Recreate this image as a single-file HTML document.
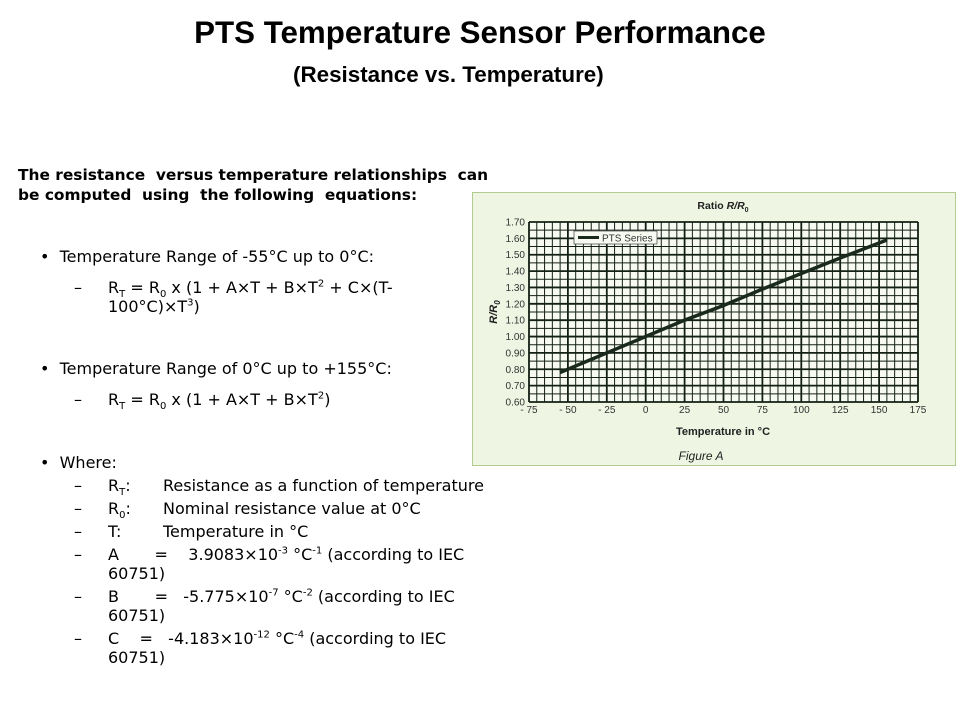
<!DOCTYPE html>
<html><head><meta charset="utf-8">
<style>
body{margin:0;width:960px;height:720px;background:#fff;position:relative;overflow:hidden;font-family:"DejaVu Sans","Liberation Sans",sans-serif;color:#000}
.t{position:absolute;white-space:nowrap;font-size:16px;line-height:19px}
.b{font-family:"Liberation Sans",sans-serif;font-weight:bold}
sub,sup{font-size:10px;line-height:0}
</style></head><body>
<div class="t b" style="left:0;width:960px;text-align:center;top:15px;font-size:31.3px;line-height:36px">PTS Temperature Sensor Performance</div>
<div class="t b" style="left:293px;top:62px;font-size:22.4px;line-height:26px">(Resistance vs. Temperature)</div>
<div class="t" style="left:18px;top:165px;font-size:15.4px;line-height:20px;font-weight:bold">The resistance &nbsp;versus temperature relationships &nbsp;can<br>be computed &nbsp;using &nbsp;the following &nbsp;equations:</div>

<div class="t" style="left:40px;top:247px">•&nbsp;&nbsp;Temperature Range of -55°C up to 0°C:</div>
<div class="t" style="left:74px;top:278px">–</div>
<div class="t" style="left:108px;top:278px">R<sub>T</sub> = R<sub>0</sub> x (1 + A×T + B×T<sup>2</sup> + C×(T-</div>
<div class="t" style="left:108px;top:297px">100°C)×T<sup>3</sup>)</div>
<div class="t" style="left:40px;top:359px">•&nbsp;&nbsp;Temperature Range of 0°C up to +155°C:</div>
<div class="t" style="left:74px;top:390px">–</div>
<div class="t" style="left:108px;top:390px">R<sub>T</sub> = R<sub>0</sub> x (1 + A×T + B×T<sup>2</sup>)</div>
<div class="t" style="left:40px;top:453px">•&nbsp;&nbsp;Where:</div>
<div class="t" style="left:74px;top:476px">–</div><div class="t" style="left:108px;top:476px">R<sub>T</sub>:</div><div class="t" style="left:163px;top:476px">Resistance as a function of temperature</div>
<div class="t" style="left:74px;top:499px">–</div><div class="t" style="left:108px;top:499px">R<sub>0</sub>:</div><div class="t" style="left:163px;top:499px">Nominal resistance value at 0°C</div>
<div class="t" style="left:74px;top:522px">–</div><div class="t" style="left:108px;top:522px">T:</div><div class="t" style="left:163px;top:522px">Temperature in °C</div>
<div class="t" style="left:74px;top:545px">–</div><div class="t" style="left:108px;top:545px">A&nbsp;&nbsp;&nbsp;&nbsp;&nbsp;&nbsp;&nbsp;=&nbsp;&nbsp;&nbsp;&nbsp;3.9083×10<sup>-3</sup> °C<sup>-1</sup> (according to IEC</div>
<div class="t" style="left:108px;top:564px">60751)</div>
<div class="t" style="left:74px;top:587px">–</div><div class="t" style="left:108px;top:587px">B&nbsp;&nbsp;&nbsp;&nbsp;&nbsp;&nbsp;&nbsp;=&nbsp;&nbsp;&nbsp;-5.775×10<sup>-7</sup> °C<sup>-2</sup> (according to IEC</div>
<div class="t" style="left:108px;top:606px">60751)</div>
<div class="t" style="left:74px;top:629px">–</div><div class="t" style="left:108px;top:629px">C&nbsp;&nbsp;&nbsp;&nbsp;=&nbsp;&nbsp;&nbsp;-4.183×10<sup>-12</sup> °C<sup>-4</sup> (according to IEC</div>
<div class="t" style="left:108px;top:648px">60751)</div>

<svg style="position:absolute;left:0;top:0" width="960" height="720" font-family="Liberation Sans, sans-serif">
<rect x="472.5" y="192.5" width="483" height="273" fill="#eef5e2" stroke="#b3cb8f"/>
<g id="g"></g>
</svg>
<script>
const temps=[-55,0,25,50,75,100,125,155];
const ratios=[0.78,1.00,1.10,1.19,1.29,1.385,1.48,1.59];
const xTicks=[-75,-50,-25,0,25,50,75,100,125,150,175];
const yTicks=[0.60,0.70,0.80,0.90,1.00,1.10,1.20,1.30,1.40,1.50,1.60,1.70];
const seriesName='PTS Series';
const X0=529,X1=918,Y0=402,Y1=222;
const x=v=>X0+(v+75)/250*(X1-X0);
const y=v=>Y0-(v-0.6)/1.1*(Y0-Y1);
const g=document.getElementById('g');const NS='http://www.w3.org/2000/svg';
function mk(t,a,txt){const e=document.createElementNS(NS,t);for(const k in a)e.setAttribute(k,a[k]);if(txt!=null)e.textContent=txt;g.appendChild(e);return e;}
let bg=mk('rect',{x:X0,y:Y1,width:X1-X0,height:Y0-Y1,fill:'#f7faf0'});


for(let v=-75;v<=175;v+=5){const major=v%25===0;let l=mk('line',{x1:x(v),x2:x(v),y1:Y1,y2:Y0,stroke:'#142014','stroke-width':major?1.8:1});

}
for(let i=0;i<=22;i++){const v=0.6+i*0.05;const major=i%2===0;let l=mk('line',{x1:X0,x2:X1,y1:y(v),y2:y(v),stroke:'#142014','stroke-width':major?1.8:1});

}
xTicks.forEach(v=>{let t=mk('text',{x:x(v),y:Y0+11,'font-size':10,'text-anchor':'middle',fill:'#333'},v<0?'- '+(-v):String(v));

});
yTicks.forEach(v=>{let t=mk('text',{x:X0-4,y:y(v)+3.5,'font-size':10,'text-anchor':'end',fill:'#333'},v.toFixed(2));

});
let p=mk('polyline',{points:temps.map((t,i)=>x(t)+','+y(ratios[i])).join(' '),fill:'none',stroke:'#1a2a1a','stroke-width':3.5});


let lb=mk('rect',{x:574,y:231,width:83,height:13,fill:'#f7faf0',stroke:'#555','stroke-width':0.8});


let ll=mk('line',{x1:578,x2:599,y1:237.5,y2:237.5,stroke:'#1a2a1a','stroke-width':3});


let lt=mk('text',{x:602,y:241.5,'font-size':10,fill:'#333'},seriesName);


let ct=mk('text',{x:723,y:209,'font-size':10.5,'font-weight':'bold','text-anchor':'middle',fill:'#222'});
ct.innerHTML='Ratio <tspan font-style="italic">R/R</tspan><tspan font-size="7" dy="3">0</tspan>';


let yt=mk('text',{transform:'translate(497,312) rotate(-90)','font-size':11,'font-weight':'bold','font-style':'italic','text-anchor':'middle',fill:'#222'});
yt.innerHTML='R/R<tspan font-size="8" dy="3">0</tspan>';


let xt=mk('text',{x:723,y:435,'font-size':11,'font-weight':'bold','text-anchor':'middle',fill:'#222'},'Temperature in °C');


let fa=mk('text',{x:701,y:460,'font-size':12,'font-style':'italic','text-anchor':'middle',fill:'#222'},'Figure A');


</script>
</body></html>
